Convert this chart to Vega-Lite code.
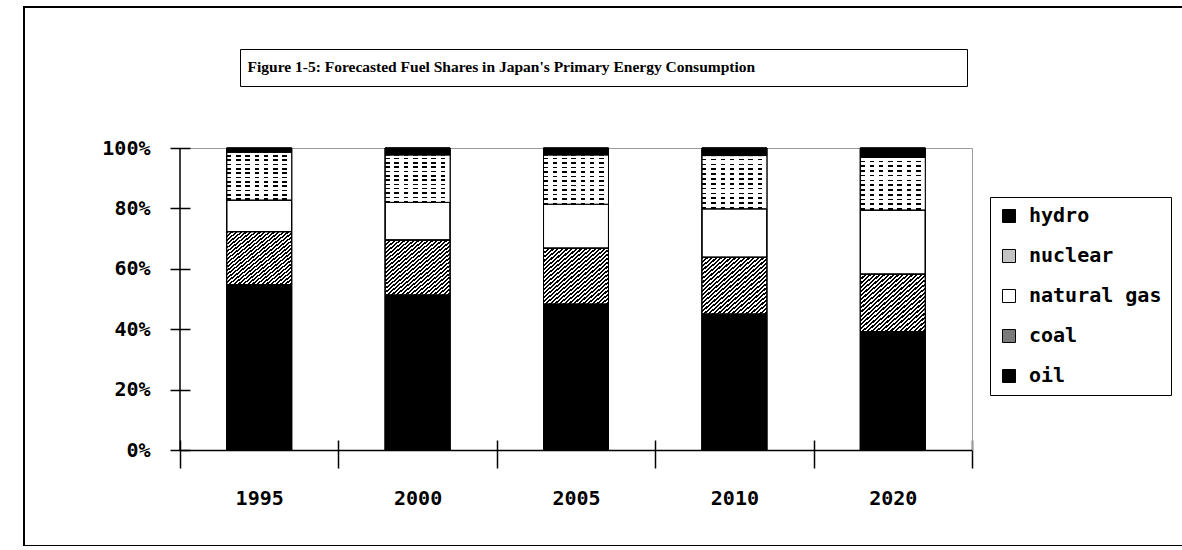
{
  "$schema": "https://vega.github.io/schema/vega-lite/v6.json",
  "width": 1170,
  "height": 539,
  "autosize": "none",
  "padding": {"left": 24, "top": 7, "right": 0, "bottom": 0},
  "background": "white",
  "config": {
    "view": {"stroke": "black", "strokeWidth": 2},
    "axis": {
      "labelFont": "DejaVu Sans Mono",
      "labelFontWeight": "bold",
      "labelFontSize": 20,
      "labelColor": "black",
      "tickColor": "black",
      "domainColor": "black",
      "title": null
    }
  },
  "data": {
    "values": [
      {"year": "1995", "fuel": "oil", "share": 54.7, "k": 1},
      {"year": "1995", "fuel": "coal", "share": 17.6, "k": 2},
      {"year": "1995", "fuel": "natural gas", "share": 10.5, "k": 3},
      {"year": "1995", "fuel": "nuclear", "share": 15.8, "k": 4},
      {"year": "1995", "fuel": "hydro", "share": 1.4, "k": 5},
      {"year": "2000", "fuel": "oil", "share": 51.3, "k": 1},
      {"year": "2000", "fuel": "coal", "share": 18.2, "k": 2},
      {"year": "2000", "fuel": "natural gas", "share": 12.5, "k": 3},
      {"year": "2000", "fuel": "nuclear", "share": 15.7, "k": 4},
      {"year": "2000", "fuel": "hydro", "share": 2.3, "k": 5},
      {"year": "2005", "fuel": "oil", "share": 48.3, "k": 1},
      {"year": "2005", "fuel": "coal", "share": 18.5, "k": 2},
      {"year": "2005", "fuel": "natural gas", "share": 14.6, "k": 3},
      {"year": "2005", "fuel": "nuclear", "share": 16.3, "k": 4},
      {"year": "2005", "fuel": "hydro", "share": 2.3, "k": 5},
      {"year": "2010", "fuel": "oil", "share": 45.0, "k": 1},
      {"year": "2010", "fuel": "coal", "share": 18.8, "k": 2},
      {"year": "2010", "fuel": "natural gas", "share": 16.1, "k": 3},
      {"year": "2010", "fuel": "nuclear", "share": 17.6, "k": 4},
      {"year": "2010", "fuel": "hydro", "share": 2.5, "k": 5},
      {"year": "2020", "fuel": "oil", "share": 39.2, "k": 1},
      {"year": "2020", "fuel": "coal", "share": 19.0, "k": 2},
      {"year": "2020", "fuel": "natural gas", "share": 21.3, "k": 3},
      {"year": "2020", "fuel": "nuclear", "share": 17.4, "k": 4},
      {"year": "2020", "fuel": "hydro", "share": 3.1, "k": 5}
    ]
  },
  "layer": [
    {
      "mark": {"type": "bar", "stroke": "black", "strokeWidth": 1, "width": {"band": 0.41}},
      "encoding": {
        "x": {
          "field": "year", "type": "nominal",
          "scale": {"range": [156, 948], "paddingInner": 0, "paddingOuter": 0},
          "axis": {
            "orient": "bottom", "offset": -106, "domain": false, "tickSize": 28, "tickWidth": 1.5,
            "tickBand": "extent", "labelAngle": 0, "labelPadding": 20, "grid": false
          }
        },
        "y": {
          "field": "share", "type": "quantitative", "stack": "zero",
          "scale": {"domain": [0, 100], "range": [443, 141], "nice": false},
          "axis": {
            "orient": "left", "offset": -166, "domain": false, "tickSize": 20, "tickWidth": 1.5,
            "values": [0, 20, 40, 60, 80, 100], "labelExpr": "datum.value + '%'",
            "labelPadding": 20, "grid": false
          }
        },
        "order": {"field": "k", "type": "quantitative", "sort": "ascending"},
        "fill": {
          "field": "fuel", "type": "nominal",
          "scale": {
            "domain": ["hydro", "nuclear", "natural gas", "coal", "oil"],
            "range": ["black", "#c4c4c4", "white", "#7a7a7a", "black"]
          },
          "legend": {
            "orient": "none", "legendX": 966, "legendY": 190, "title": null,
            "padding": 9, "strokeColor": "black", "fillColor": "white",
            "symbolType": "square", "symbolSize": 169, "symbolStrokeColor": "black", "symbolStrokeWidth": 1,
            "labelFont": "DejaVu Sans Mono", "labelFontWeight": "bold", "labelFontSize": 20, "labelColor": "black",
            "labelOffset": 10, "rowPadding": 20, "labelLimit": 300
          }
        }
      }
    },
    {
      "mark": {"type": "bar", "stroke": "black", "strokeWidth": 1, "width": {"band": 0.41}},
      "encoding": {
        "x": {
          "field": "year", "type": "nominal",
          "axis": {
            "orient": "bottom", "offset": -96, "domain": true, "domainWidth": 1.5, "ticks": false, "labels": false, "grid": false
          }
        },
        "y": {
          "field": "share", "type": "quantitative", "stack": "zero",
          "axis": {
            "orient": "left", "offset": -155.5, "domain": true, "domainWidth": 1.5, "ticks": false, "labels": false, "grid": false
          }
        },
        "order": {"field": "k", "type": "quantitative", "sort": "ascending"},
        "fill": {
          "condition": [
            {
              "test": "datum.fuel === 'coal'",
              "value": {"gradient": "linear", "x1": 0, "y1": 0, "x2": 1, "y2": 1, "stops": [
                {"offset": 0, "color": "black"}, {"offset": 0.018, "color": "black"}, {"offset": 0.018, "color": "white"}, {"offset": 0.036, "color": "white"},
                {"offset": 0.036, "color": "black"}, {"offset": 0.054, "color": "black"}, {"offset": 0.054, "color": "white"}, {"offset": 0.072, "color": "white"},
                {"offset": 0.072, "color": "black"}, {"offset": 0.09, "color": "black"}, {"offset": 0.09, "color": "white"}, {"offset": 0.108, "color": "white"},
                {"offset": 0.108, "color": "black"}, {"offset": 0.126, "color": "black"}, {"offset": 0.126, "color": "white"}, {"offset": 0.144, "color": "white"},
                {"offset": 0.144, "color": "black"}, {"offset": 0.162, "color": "black"}, {"offset": 0.162, "color": "white"}, {"offset": 0.18, "color": "white"},
                {"offset": 0.18, "color": "black"}, {"offset": 0.198, "color": "black"}, {"offset": 0.198, "color": "white"}, {"offset": 0.216, "color": "white"},
                {"offset": 0.216, "color": "black"}, {"offset": 0.234, "color": "black"}, {"offset": 0.234, "color": "white"}, {"offset": 0.252, "color": "white"},
                {"offset": 0.252, "color": "black"}, {"offset": 0.27, "color": "black"}, {"offset": 0.27, "color": "white"}, {"offset": 0.288, "color": "white"},
                {"offset": 0.288, "color": "black"}, {"offset": 0.306, "color": "black"}, {"offset": 0.306, "color": "white"}, {"offset": 0.324, "color": "white"},
                {"offset": 0.324, "color": "black"}, {"offset": 0.342, "color": "black"}, {"offset": 0.342, "color": "white"}, {"offset": 0.36, "color": "white"},
                {"offset": 0.36, "color": "black"}, {"offset": 0.378, "color": "black"}, {"offset": 0.378, "color": "white"}, {"offset": 0.396, "color": "white"},
                {"offset": 0.396, "color": "black"}, {"offset": 0.414, "color": "black"}, {"offset": 0.414, "color": "white"}, {"offset": 0.432, "color": "white"},
                {"offset": 0.432, "color": "black"}, {"offset": 0.45, "color": "black"}, {"offset": 0.45, "color": "white"}, {"offset": 0.468, "color": "white"},
                {"offset": 0.468, "color": "black"}, {"offset": 0.486, "color": "black"}, {"offset": 0.486, "color": "white"}, {"offset": 0.504, "color": "white"},
                {"offset": 0.504, "color": "black"}, {"offset": 0.522, "color": "black"}, {"offset": 0.522, "color": "white"}, {"offset": 0.54, "color": "white"},
                {"offset": 0.54, "color": "black"}, {"offset": 0.558, "color": "black"}, {"offset": 0.558, "color": "white"}, {"offset": 0.576, "color": "white"},
                {"offset": 0.576, "color": "black"}, {"offset": 0.594, "color": "black"}, {"offset": 0.594, "color": "white"}, {"offset": 0.612, "color": "white"},
                {"offset": 0.612, "color": "black"}, {"offset": 0.63, "color": "black"}, {"offset": 0.63, "color": "white"}, {"offset": 0.648, "color": "white"},
                {"offset": 0.648, "color": "black"}, {"offset": 0.666, "color": "black"}, {"offset": 0.666, "color": "white"}, {"offset": 0.684, "color": "white"},
                {"offset": 0.684, "color": "black"}, {"offset": 0.702, "color": "black"}, {"offset": 0.702, "color": "white"}, {"offset": 0.72, "color": "white"},
                {"offset": 0.72, "color": "black"}, {"offset": 0.738, "color": "black"}, {"offset": 0.738, "color": "white"}, {"offset": 0.756, "color": "white"},
                {"offset": 0.756, "color": "black"}, {"offset": 0.774, "color": "black"}, {"offset": 0.774, "color": "white"}, {"offset": 0.792, "color": "white"},
                {"offset": 0.792, "color": "black"}, {"offset": 0.81, "color": "black"}, {"offset": 0.81, "color": "white"}, {"offset": 0.828, "color": "white"},
                {"offset": 0.828, "color": "black"}, {"offset": 0.846, "color": "black"}, {"offset": 0.846, "color": "white"}, {"offset": 0.864, "color": "white"},
                {"offset": 0.864, "color": "black"}, {"offset": 0.882, "color": "black"}, {"offset": 0.882, "color": "white"}, {"offset": 0.9, "color": "white"},
                {"offset": 0.9, "color": "black"}, {"offset": 0.918, "color": "black"}, {"offset": 0.918, "color": "white"}, {"offset": 0.936, "color": "white"},
                {"offset": 0.936, "color": "black"}, {"offset": 0.954, "color": "black"}, {"offset": 0.954, "color": "white"}, {"offset": 0.972, "color": "white"},
                {"offset": 0.972, "color": "black"}, {"offset": 0.99, "color": "black"}, {"offset": 0.99, "color": "white"}, {"offset": 1, "color": "white"}
              ]}
            },
            {
              "test": "datum.fuel === 'nuclear'",
              "value": {"gradient": "linear", "x1": 0, "y1": 0, "x2": 0, "y2": 1, "stops": [
                {"offset": 0, "color": "white"}, {"offset": 0.06, "color": "white"}, {"offset": 0.06, "color": "black"}, {"offset": 0.091, "color": "black"},
                {"offset": 0.091, "color": "white"}, {"offset": 0.151, "color": "white"}, {"offset": 0.151, "color": "black"}, {"offset": 0.182, "color": "black"},
                {"offset": 0.182, "color": "white"}, {"offset": 0.242, "color": "white"}, {"offset": 0.242, "color": "black"}, {"offset": 0.273, "color": "black"},
                {"offset": 0.273, "color": "white"}, {"offset": 0.333, "color": "white"}, {"offset": 0.333, "color": "black"}, {"offset": 0.364, "color": "black"},
                {"offset": 0.364, "color": "white"}, {"offset": 0.424, "color": "white"}, {"offset": 0.424, "color": "black"}, {"offset": 0.455, "color": "black"},
                {"offset": 0.455, "color": "white"}, {"offset": 0.515, "color": "white"}, {"offset": 0.515, "color": "black"}, {"offset": 0.545, "color": "black"},
                {"offset": 0.545, "color": "white"}, {"offset": 0.605, "color": "white"}, {"offset": 0.605, "color": "black"}, {"offset": 0.636, "color": "black"},
                {"offset": 0.636, "color": "white"}, {"offset": 0.696, "color": "white"}, {"offset": 0.696, "color": "black"}, {"offset": 0.727, "color": "black"},
                {"offset": 0.727, "color": "white"}, {"offset": 0.787, "color": "white"}, {"offset": 0.787, "color": "black"}, {"offset": 0.818, "color": "black"},
                {"offset": 0.818, "color": "white"}, {"offset": 0.878, "color": "white"}, {"offset": 0.878, "color": "black"}, {"offset": 0.909, "color": "black"},
                {"offset": 0.909, "color": "white"}, {"offset": 0.969, "color": "white"}, {"offset": 0.969, "color": "black"}, {"offset": 1, "color": "black"}
              ]}
            }
          ],
          "value": "transparent"
        },
        "strokeDash": {
          "datum": "Figure 1-5: Forecasted Fuel Shares in Japan's Primary Energy Consumption",
          "scale": {"range": [[1, 0]]},
          "legend": {
            "orient": "none", "legendX": 216, "legendY": 42, "title": null, "zindex": 2,
            "padding": 10, "strokeColor": "black", "fillColor": "white",
            "symbolType": "stroke", "symbolSize": 0, "symbolStrokeWidth": 0, "labelOffset": -18,
            "labelFont": "Liberation Serif", "labelFontWeight": "bold", "labelFontSize": 15.5, "labelColor": "black",
            "labelLimit": 2000, "labelExpr": "pad(datum.label, 121, '\u00a0') + '\u2800'"
          }
        }
      }
    },
    {
      "mark": {"type": "bar", "stroke": "black", "strokeWidth": 1, "width": {"band": 0.41}},
      "encoding": {
        "x": {
          "field": "year", "type": "nominal",
          "axis": {"orient": "top", "offset": -141, "domain": true, "domainColor": "#9a9a9a", "domainWidth": 1, "ticks": false, "labels": false, "grid": false}
        },
        "y": {
          "field": "share", "type": "quantitative", "stack": "zero",
          "axis": {"orient": "right", "offset": -222, "domain": true, "domainColor": "#9a9a9a", "domainWidth": 1, "ticks": false, "labels": false, "grid": false}
        },
        "order": {"field": "k", "type": "quantitative", "sort": "ascending"},
        "fill": {
          "condition": {
            "test": "datum.fuel === 'nuclear'",
            "value": {"gradient": "linear", "x1": 0, "y1": 0, "x2": 1, "y2": 0, "stops": [
              {"offset": 0, "color": "rgba(255,255,255,0)"}, {"offset": 0.07, "color": "rgba(255,255,255,0)"}, {"offset": 0.07, "color": "white"}, {"offset": 0.143, "color": "white"},
              {"offset": 0.143, "color": "rgba(255,255,255,0)"}, {"offset": 0.213, "color": "rgba(255,255,255,0)"}, {"offset": 0.213, "color": "white"}, {"offset": 0.286, "color": "white"},
              {"offset": 0.286, "color": "rgba(255,255,255,0)"}, {"offset": 0.356, "color": "rgba(255,255,255,0)"}, {"offset": 0.356, "color": "white"}, {"offset": 0.429, "color": "white"},
              {"offset": 0.429, "color": "rgba(255,255,255,0)"}, {"offset": 0.499, "color": "rgba(255,255,255,0)"}, {"offset": 0.499, "color": "white"}, {"offset": 0.571, "color": "white"},
              {"offset": 0.571, "color": "rgba(255,255,255,0)"}, {"offset": 0.641, "color": "rgba(255,255,255,0)"}, {"offset": 0.641, "color": "white"}, {"offset": 0.714, "color": "white"},
              {"offset": 0.714, "color": "rgba(255,255,255,0)"}, {"offset": 0.784, "color": "rgba(255,255,255,0)"}, {"offset": 0.784, "color": "white"}, {"offset": 0.857, "color": "white"},
              {"offset": 0.857, "color": "rgba(255,255,255,0)"}, {"offset": 0.927, "color": "rgba(255,255,255,0)"}, {"offset": 0.927, "color": "white"}, {"offset": 1, "color": "white"}
            ]}
          },
          "value": "transparent"
        }
      }
    }
  ],
  "resolve": {"axis": {"x": "independent", "y": "independent"}}
}
